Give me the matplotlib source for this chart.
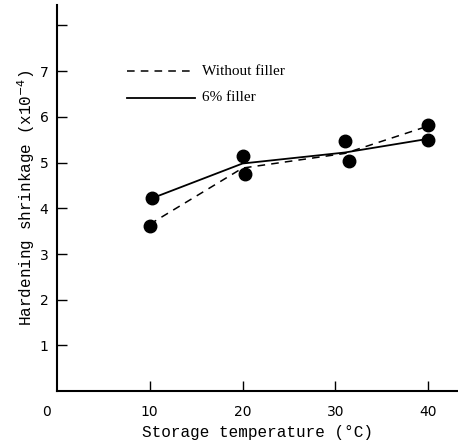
import matplotlib.pyplot as plt

# fitted lines
temp_line = [10, 20, 31, 40]
no_filler_line = [3.65, 4.88, 5.2, 5.8]
filler_line = [4.2, 4.98, 5.22, 5.52]

# measured points
no_filler_x = [10, 20.3, 31.5, 40]
no_filler_y = [3.62, 4.75, 5.03, 5.82]
filler_x = [10.2, 20, 31, 40]
filler_y = [4.22, 5.15, 5.47, 5.49]

x_ticks = [10, 20, 30, 40]
y_ticks = [1, 2, 3, 4, 5, 6, 7, 8]
y_tick_labels = ['1', '2', '3', '4', '5', '6', '7', '']

fig = plt.figure(figsize=(4.58, 4.42), dpi=100)
ax = fig.add_axes([0.124, 0.115, 0.876, 0.874])

ax.plot(temp_line, no_filler_line, 'k--', lw=1.1, dashes=(5, 4))
ax.plot(temp_line, filler_line, 'k-', lw=1.3)
ax.plot(no_filler_x, no_filler_y, 'ko', ms=9, ls='none')
ax.plot(filler_x, filler_y, 'ko', ms=9, ls='none')

ax.set_xlim(0, 43.2)
ax.set_ylim(0, 8.45)
ax.spines['top'].set_visible(False)
ax.spines['right'].set_visible(False)
ax.spines['left'].set_linewidth(1.5)
ax.spines['bottom'].set_linewidth(1.5)

ax.set_xticks(x_ticks)
ax.set_xticklabels([str(t) for t in x_ticks], family='DejaVu Sans', fontsize=10)
ax.set_yticks(y_ticks)
ax.set_yticklabels(y_tick_labels, family='DejaVu Sans', fontsize=10)
ax.tick_params(axis='both', direction='in', length=7, width=1)
ax.tick_params(axis='x', pad=10)
ax.tick_params(axis='y', pad=6)
# the "0" sits a little left of the origin in the original
ax.annotate('0', xy=(-1.1, 0), xytext=(0, -10), textcoords='offset points',
            family='DejaVu Sans', fontsize=10, ha='center', va='top', annotation_clip=False)

ax.set_xlabel('Storage temperature (°C)', family='Liberation Mono', fontsize=11.5, labelpad=4)
ax.set_ylabel('Hardening shrinkage (x10$^{-4}$)', family='Liberation Mono', fontsize=11.5, labelpad=2)

# hand-made legend
ax.plot([7.6, 14.9], [7.0, 7.0], 'k--', lw=1.1, dashes=(5, 4))
ax.plot([7.6, 14.9], [6.42, 6.42], 'k-', lw=1.3)
ax.text(15.6, 7.0, 'Without filler', family='Liberation Serif', fontsize=11, va='center')
ax.text(15.6, 6.42, '6% filler', family='Liberation Serif', fontsize=11, va='center')

fig.savefig('out.png', dpi=100)
